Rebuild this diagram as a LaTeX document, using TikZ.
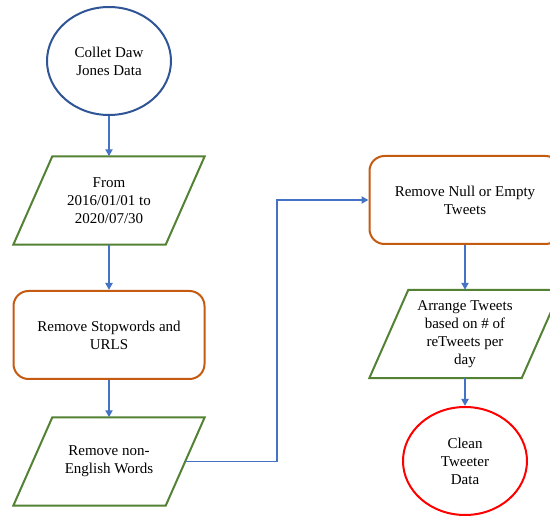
\documentclass[tikz,border=0pt]{standalone}
\usepackage{fontspec}
\setmainfont{Liberation Serif}
\usetikzlibrary{shapes.geometric,arrows.meta,calc}
\definecolor{cblue}{HTML}{2F5597}
\definecolor{carrow}{HTML}{4472C4}
\definecolor{cgreen}{HTML}{548235}
\definecolor{corange}{HTML}{C55A11}
\definecolor{cred}{HTML}{FF0000}
\begin{document}
\begin{tikzpicture}[x=1pt,y=-1pt,
  txt/.style={font=\fontsize{15}{18}\selectfont,align=center,text=black},
  ellbox/.style={txt,ellipse,draw,line width=2pt,inner sep=0pt,minimum width=124pt,minimum height=108pt},
  roundbox/.style={txt,rectangle,rounded corners=15pt,draw=corange,line width=2pt,minimum width=191pt,minimum height=88pt},
  parabox/.style={txt,rectangle,inner sep=0pt,minimum width=191pt,minimum height=88pt},
  paraline/.style={draw=cgreen,line width=2pt,line join=miter},
  conn/.style={draw=carrow,line width=1.8pt,-{Triangle[width=7pt,length=7pt]}}
]
\useasboundingbox (0,0) rectangle (550,516);
\fill[white] (0,0) rectangle (550,516);

\node[ellbox,draw=cblue] (e1) at (109,61) {Collet Daw\\Jones Data};
\node[parabox] (p1) at (109,200.5) {From\\2016/01/01 to\\2020/07/30};
\node[roundbox] (r1) at (109,335) {Remove Stopwords and\\URLS};
\node[parabox] (p2) at (109,461.5) {Remove non-\\English Words};
\node[roundbox] (r2) at (465,200) {Remove Null or Empty\\Tweets};
\node[parabox] (p3) at (465,334) {Arrange Tweets\\based on \# of\\reTweets per\\day};
\node[ellbox,draw=cred] (e2) at (465,461) {Clean\\Tweeter\\Data};

\foreach \p in {p1,p2,p3}{
  \draw[paraline] (\p.south west) -- ([xshift=39pt]\p.north west) -- (\p.north east) -- ([xshift=-39pt]\p.south east) -- cycle;
}

\coordinate (p2e) at ($(p2.east)+(-19.5pt,0)$);
\coordinate (bend1) at (277,461.5);
\coordinate (bend2) at (277,200);

\draw[conn] (e1) -- (p1.north);
\draw[conn] (p1.south) -- (r1.north);
\draw[conn] (r1.south) -- (p2.north);
\draw[conn] (p2e) -- (bend1) -- (bend2) -- (r2.west);
\draw[conn] (r2.south) -- (p3.north);
\draw[conn] (p3.south) -- (e2.north);
\end{tikzpicture}
\end{document}
